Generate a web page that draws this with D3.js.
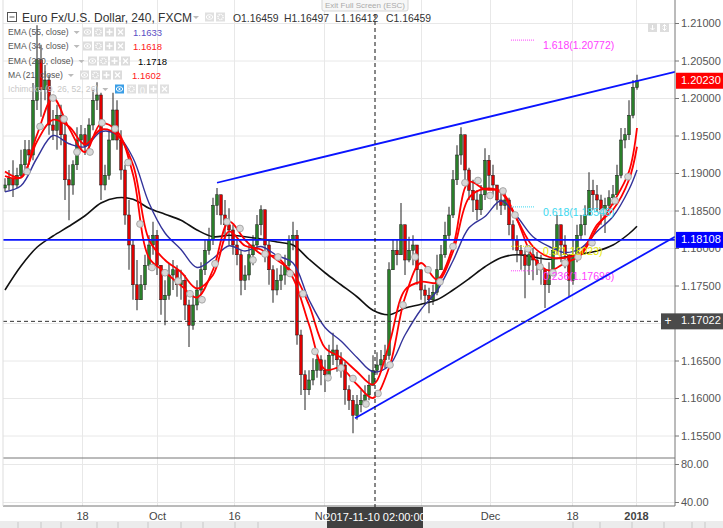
<!DOCTYPE html>
<html><head><meta charset="utf-8">
<script src="https://cdn.jsdelivr.net/npm/d3@7"></script>
<style>body{margin:0;background:#fff;}svg{display:block;font-family:Arial,"Liberation Sans",sans-serif;}</style>
</head><body><svg id="c" width="723" height="528"></svg>
<script>
// ---------------- DATA ----------------
const firstOpen = 1.1880;
const closes = [1.1884,1.1893,1.1884,1.1897,1.1911,1.1931,1.1924,1.1997,1.2051,1.2011,
1.2024,1.1964,1.1957,1.1977,1.1951,1.1891,1.1884,1.1911,1.1944,1.1951,
1.1937,1.1964,1.1997,1.2004,1.1884,1.1897,1.1944,1.1984,1.1944,1.1904,
1.1844,1.1804,1.1751,1.1731,1.1751,1.1777,1.1804,1.1817,1.1777,1.1731,
1.1737,1.1764,1.1771,1.1751,1.1757,1.1724,1.1697,1.1724,1.1744,1.1771,
1.1797,1.1811,1.1857,1.1871,1.1844,1.1831,1.1824,1.1804,1.1791,1.1757,
1.1764,1.1791,1.1804,1.1831,1.1851,1.1804,1.1771,1.1744,1.1757,1.1764,
1.1777,1.1811,1.1817,1.1684,1.1631,1.1611,1.1624,1.1637,1.1651,1.1637,
1.1631,1.1657,1.1664,1.1651,1.1644,1.1611,1.1597,1.1577,1.1591,1.1597,
1.1604,1.1617,1.1637,1.1644,1.1651,1.1657,1.1771,1.1797,1.1791,1.1831,
1.1784,1.1797,1.1804,1.1771,1.1744,1.1737,1.1731,1.1741,1.1771,1.1791,
1.1817,1.1844,1.1891,1.1924,1.1951,1.1904,1.1877,1.1864,1.1851,1.1871,
1.1917,1.1897,1.1884,1.1864,1.1857,1.1864,1.1831,1.1811,1.1797,1.1791,
1.1777,1.1791,1.1784,1.1777,1.1771,1.1751,1.1764,1.1797,1.1831,1.1804,
1.1791,1.1757,1.1791,1.1817,1.1831,1.1844,1.1877,1.1871,1.1864,1.1851,
1.1857,1.1867,1.1871,1.1897,1.1944,1.1951,1.1977,1.2014,1.2023];
const highs = [1.1893,1.1904,1.1917,1.1907,1.1931,1.1944,1.1944,1.2020,1.2097,1.2071,
1.2044,1.2031,1.1984,1.1991,1.1991,1.1975,1.1911,1.1917,1.1961,1.1964,
1.1960,1.1973,1.2011,1.2021,1.2007,1.1911,1.1957,1.2007,1.1997,1.1957,
1.1911,1.1864,1.1811,1.1784,1.1764,1.1791,1.1817,1.1835,1.1824,1.1777,
1.1757,1.1780,1.1784,1.1777,1.1771,1.1764,1.1731,1.1737,1.1757,1.1781,
1.1811,1.1827,1.1867,1.1880,1.1871,1.1864,1.1853,1.1831,1.1811,1.1797,
1.1777,1.1804,1.1817,1.1844,1.1857,1.1851,1.1811,1.1777,1.1773,1.1777,
1.1791,1.1817,1.1835,1.1824,1.1691,1.1637,1.1637,1.1653,1.1664,1.1657,
1.1651,1.1671,1.1687,1.1671,1.1661,1.1648,1.1617,1.1604,1.1604,1.1611,
1.1617,1.1631,1.1657,1.1661,1.1664,1.1671,1.1781,1.1811,1.1811,1.1860,
1.1811,1.1815,1.1817,1.1797,1.1771,1.1751,1.1747,1.1751,1.1791,1.1804,
1.1835,1.1855,1.1904,1.1937,1.1961,1.1944,1.1907,1.1891,1.1877,1.1884,
1.1933,1.1924,1.1911,1.1884,1.1873,1.1875,1.1867,1.1837,1.1817,1.1804,
1.1797,1.1804,1.1800,1.1795,1.1791,1.1771,1.1781,1.1811,1.1844,1.1827,
1.1817,1.1791,1.1811,1.1831,1.1844,1.1857,1.1901,1.1891,1.1884,1.1871,
1.1867,1.1877,1.1884,1.1911,1.1960,1.1960,1.1997,1.2024,1.2031];
const lows = [1.1875,1.1877,1.1868,1.1880,1.1893,1.1904,1.1911,1.1917,1.1984,1.1975,
1.1997,1.1951,1.1944,1.1931,1.1937,1.1864,1.1837,1.1871,1.1904,1.1931,
1.1924,1.1931,1.1957,1.1984,1.1864,1.1877,1.1891,1.1944,1.1931,1.1891,
1.1831,1.1771,1.1731,1.1717,1.1731,1.1744,1.1771,1.1791,1.1764,1.1711,
1.1697,1.1731,1.1744,1.1735,1.1731,1.1704,1.1668,1.1691,1.1717,1.1737,
1.1764,1.1791,1.1804,1.1844,1.1831,1.1811,1.1804,1.1791,1.1777,1.1737,
1.1744,1.1757,1.1777,1.1797,1.1817,1.1781,1.1751,1.1727,1.1737,1.1744,
1.1751,1.1771,1.1797,1.1671,1.1604,1.1584,1.1604,1.1617,1.1627,1.1617,
1.1608,1.1627,1.1644,1.1635,1.1627,1.1591,1.1584,1.1553,1.1571,1.1581,
1.1591,1.1597,1.1617,1.1631,1.1635,1.1640,1.1651,1.1781,1.1777,1.1791,
1.1764,1.1781,1.1777,1.1751,1.1731,1.1724,1.1713,1.1724,1.1737,1.1771,
1.1787,1.1811,1.1840,1.1884,1.1911,1.1891,1.1864,1.1848,1.1837,1.1844,
1.1864,1.1877,1.1871,1.1851,1.1844,1.1851,1.1817,1.1797,1.1781,1.1771,
1.1733,1.1764,1.1757,1.1764,1.1751,1.1720,1.1740,1.1777,1.1791,1.1781,
1.1773,1.1735,1.1751,1.1781,1.1811,1.1817,1.1844,1.1851,1.1848,1.1831,
1.1820,1.1853,1.1857,1.1871,1.1893,1.1933,1.1944,1.1973,1.2011];

// indicator lines, sampled at these bar indices
const lineIdx = [0,4,8,12,16,20,24,28,32,36,40,44,48,52,56,60,64,68,72,76,80,84,88,92,96,100,104,108,112,116,120,124,128,132,136,140,144,148,152,156,158];
const ema200 = [1.1744,1.1776,1.1801,1.1816,1.1829,1.1843,1.1860,1.1867,1.1865,1.1853,1.1845,1.1837,1.1824,1.1815,1.1817,1.1815,1.1812,1.1808,1.1804,1.1785,1.1767,1.1751,1.1735,1.1717,1.1711,1.1720,1.1725,1.1731,1.1744,1.1759,1.1775,1.1787,1.1791,1.1788,1.1785,1.1788,1.1792,1.1796,1.1804,1.1819,1.1829];
const ema55 = [1.1875,1.1883,1.1920,1.1950,1.1939,1.1935,1.1955,1.1951,1.1920,1.1860,1.1820,1.1798,1.1774,1.1786,1.1803,1.1796,1.1802,1.1790,1.1780,1.1731,1.1694,1.1676,1.1654,1.1635,1.1643,1.1684,1.1718,1.1743,1.1783,1.1827,1.1842,1.1863,1.1842,1.1815,1.1802,1.1794,1.1800,1.1822,1.1842,1.1878,1.1904];
const ema34 = [1.1896,1.1894,1.1942,1.1971,1.1962,1.1938,1.1958,1.1951,1.1911,1.1811,1.1784,1.1768,1.1746,1.1764,1.1822,1.1803,1.1798,1.1784,1.1767,1.1724,1.1667,1.1654,1.1635,1.1618,1.1671,1.1744,1.1755,1.1754,1.1795,1.1867,1.1879,1.1874,1.1838,1.1802,1.1788,1.1787,1.1794,1.1831,1.1851,1.1891,1.1935];
const ma21 = [1.1902,1.1894,1.1951,1.2000,1.1960,1.1928,1.1966,1.1956,1.1898,1.1787,1.1768,1.1750,1.1734,1.1771,1.1835,1.1811,1.1792,1.1788,1.1760,1.1698,1.1638,1.1640,1.1618,1.1600,1.1640,1.1734,1.1780,1.1758,1.1802,1.1888,1.1878,1.1876,1.1838,1.1788,1.1770,1.1780,1.1791,1.1827,1.1860,1.1902,1.1960];

// grey circle markers (bar index, price)
const dotIdx = [5.5,8.75,12,14.75,18,21.25,24.25,27.5,30.75,33.75,36.75,40,43.25,46.25,49.25,52.5,55.5,58.75,62,65,68.25,71.25,74.5,77.5,80.75,84,87,90.25,93.25,96.25,99.5,102.5,105.75,108.75,112,115,118.25,121.25,124.5,127.5,130.75,133.75,137,140,143.25,146.75,149.5,152.5,155.75];
const dotPrice = [1.1902,1.1962,1.2000,1.1972,1.1928,1.1928,1.1967,1.1959,1.1914,1.1832,1.1774,1.1767,1.1756,1.1739,1.1731,1.1779,1.1835,1.1826,1.1784,1.1792,1.1788,1.1766,1.1739,1.1662,1.1627,1.1640,1.1626,1.1592,1.1606,1.1644,1.1724,1.1788,1.1771,1.1755,1.1802,1.1887,1.1890,1.1870,1.1876,1.1844,1.1799,1.1775,1.1767,1.1780,1.1788,1.1807,1.1848,1.1863,1.1895];

// drawings
const trendStartIdx = [53, 87.5];
const trendStartPrice = [1.1887, 1.1573];
const trendEndIdx = [167.5, 167.5];
const trendEndPrice = [1.2035, 1.1815];
const hLinePrice = 1.18108;
const dashedPrice = 1.17022;
const lastPrice = 1.20230;
const crossIdx = 92.5;
const crossLabel = "2017-11-10 02:00:00";

const fibLabels = ["1.618(1.20772)","0.618(1.18548)","0.5(1.18023)","0.236(1.17696)"];
const fibPrices = [1.20772,1.18548,1.18023,1.17696];
const fibColors = ["#ff40ff","#38d8f0","#e8e800","#ff40ff"];
const fibStartIdx = 126.5, fibEndIdx = 132.5, fibTextIdx = 134.5;

const priceTicks = [1.155,1.16,1.165,1.17,1.175,1.18,1.185,1.19,1.195,1.20,1.205,1.21];
const subTicks = [40,80];
const xTickIdx = [19.25,38,57.25,79.75,104,121.25,141.75,157.75];
const xTickLabels = ["18","Oct","16","Nov","","Dec","18","2018"];

const legendNames = ["EMA (55, close)","EMA (34, close)","EMA (200, close)","MA (21, close)"];
const legendValues = ["1.1633","1.1618","1.1718","1.1602"];
const legendColors = ["#5b4fc4","#ff2020","#000000","#ff2020"];
const ohlcLabels = ["O1.16459","H1.16497","L1.16412","C1.16459"];

// ---------------- LAYOUT ----------------
const svg = d3.select("#c");
const L = 3, R = 675, mainB = 458, subB = 506;
const x = d3.scaleLinear().domain([0,158]).range([5,637]);
const y = d3.scaleLinear().domain([1.155,1.21]).range([435.5,23]);
const ys = d3.scaleLinear().domain([40,80]).range([502,464]);

svg.append("defs").append("clipPath").attr("id","mc").append("rect")
  .attr("x",L).attr("y",0).attr("width",R-L).attr("height",mainB);

// grids
const gridC = "#e8e8e8";
svg.append("g").attr("transform",`translate(${L},0)`)
  .call(d3.axisRight(y).tickValues(priceTicks).tickSize(R-L).tickFormat(""))
  .call(g=>{g.select(".domain").remove();g.selectAll("line").attr("stroke",gridC);});
svg.append("g").attr("transform",`translate(${L},0)`)
  .call(d3.axisRight(ys).tickValues(subTicks).tickSize(R-L).tickFormat(""))
  .call(g=>{g.select(".domain").remove();g.selectAll("line").attr("stroke",gridC);});
svg.append("g").attr("transform",`translate(0,${subB})`)
  .call(d3.axisTop(x).tickValues(xTickIdx).tickSize(subB).tickFormat(""))
  .call(g=>{g.select(".domain").remove();g.selectAll("line").attr("stroke",gridC);});

const plot = svg.append("g").attr("clip-path","url(#mc)");
const line = d3.line().x(d=>x(d[0])).y(d=>y(d[1])).curve(d3.curveCatmullRom.alpha(0.5));
const pts = arr => arr.map((v,k)=>[lineIdx[k],v]);

// EMA200 under candles
plot.append("path").attr("d",line(pts(ema200))).attr("fill","none").attr("stroke","#111").attr("stroke-width",1.6);

// candles
const opens = closes.map((c,i)=> i ? closes[i-1] : firstOpen);
const candles = closes.map((c,i)=>({i,o:opens[i],h:highs[i],l:lows[i],c}));
const cg = plot.append("g");
cg.selectAll("line").data(candles).join("line")
  .attr("x1",d=>x(d.i)).attr("x2",d=>x(d.i))
  .attr("y1",d=>y(Math.max(d.h,d.o,d.c))).attr("y2",d=>y(Math.min(d.l,d.o,d.c)))
  .attr("stroke","#222").attr("stroke-width",1);
cg.selectAll("rect").data(candles).join("rect")
  .attr("x",d=>x(d.i)-1.4).attr("width",2.8)
  .attr("y",d=>y(Math.max(d.o,d.c))).attr("height",d=>Math.max(1,Math.abs(y(d.o)-y(d.c))))
  .attr("fill",d=>d.c>=d.o?"#2a7f2a":"#e00000").attr("stroke","#1a1a1a").attr("stroke-width",0.5);

// indicator lines
plot.append("path").attr("d",line(pts(ema55))).attr("fill","none").attr("stroke","#33339a").attr("stroke-width",1.4);
plot.append("path").attr("d",line(pts(ema34))).attr("fill","none").attr("stroke","#ff0000").attr("stroke-width",1.8);
plot.append("path").attr("d",line(pts(ma21))).attr("fill","none").attr("stroke","#ff0000").attr("stroke-width",1.8);

plot.selectAll("circle.dot").data(dotIdx).join("circle").attr("class","dot")
  .attr("cx",d=>x(d)).attr("cy",(d,k)=>y(dotPrice[k])).attr("r",3.4)
  .attr("fill","#d8d8d8").attr("stroke","#9a9a9a").attr("stroke-width",0.8);

// fib labels
fibPrices.forEach((p,k)=>{
  plot.append("line").attr("x1",x(fibStartIdx)).attr("x2",x(fibEndIdx)).attr("y1",y(p)).attr("y2",y(p))
    .attr("stroke",fibColors[k]).attr("stroke-dasharray","1,1").attr("stroke-width",1);
  plot.append("text").attr("x",x(fibTextIdx)).attr("y",y(p)+6).attr("dominant-baseline","middle")
    .attr("font-size",10.5).attr("fill",fibColors[k]).text(fibLabels[k]);
});

// trend lines
trendStartIdx.forEach((s,k)=>{
  plot.append("line").attr("x1",x(s)).attr("y1",y(trendStartPrice[k]))
    .attr("x2",x(trendEndIdx[k])).attr("y2",y(trendEndPrice[k]))
    .attr("stroke","#0a14ff").attr("stroke-width",1.8);
});
plot.append("line").attr("x1",L).attr("x2",R).attr("y1",y(hLinePrice)).attr("y2",y(hLinePrice))
  .attr("stroke","#0a14ff").attr("stroke-width",1.8);
svg.append("line").attr("x1",L).attr("x2",661).attr("y1",y(dashedPrice)).attr("y2",y(dashedPrice))
  .attr("stroke","#333").attr("stroke-dasharray","4,3");

// frame lines
svg.append("line").attr("x1",L).attr("x2",R).attr("y1",mainB).attr("y2",mainB).attr("stroke","#777");
svg.append("line").attr("x1",L).attr("x2",R).attr("y1",subB).attr("y2",subB).attr("stroke","#777");
svg.append("line").attr("x1",R).attr("x2",R).attr("y1",0).attr("y2",subB).attr("stroke","#777");
svg.append("line").attr("x1",L).attr("x2",L).attr("y1",0).attr("y2",subB).attr("stroke","#ddd");

// right axes (labels hidden under the 1.17022 tag are not drawn)
const axStyle = g=>{g.select(".domain").remove();g.selectAll("line").attr("stroke","#777");
  g.selectAll("text").attr("fill","#555").attr("font-size",11).attr("font-family","Arial, Liberation Sans, sans-serif");};
svg.append("g").attr("transform",`translate(${R},0)`)
  .call(d3.axisRight(y).tickValues(priceTicks).tickSize(4).tickPadding(2)
    .tickFormat(d=>Math.abs(y(d)-y(dashedPrice))<8?"":d3.format(".5f")(d))).call(axStyle);
svg.append("g").attr("transform",`translate(${R},0)`)
  .call(d3.axisRight(ys).tickValues(subTicks).tickSize(4).tickPadding(2).tickFormat(d3.format(".2f"))).call(axStyle);

// bottom axis
svg.append("g").attr("transform",`translate(0,${subB})`)
  .call(d3.axisBottom(x).tickValues(xTickIdx).tickSize(0).tickPadding(6).tickFormat((d,k)=>xTickLabels[k]))
  .call(g=>{g.select(".domain").remove();g.selectAll("text").attr("fill","#444").attr("font-size",11)
    .attr("font-family","Arial, Liberation Sans, sans-serif")
    .attr("font-weight",(d,k)=>k===xTickLabels.length-1?"bold":"normal");});

// price labels on axis
function priceTag(p, color, x0, txt){
  svg.append("rect").attr("x",x0).attr("y",y(p)-8).attr("width",723-x0).attr("height",16).attr("fill",color);
  svg.append("text").attr("x",681).attr("y",y(p)).attr("dominant-baseline","middle").attr("font-size",11)
    .attr("fill","#fff").text(txt);
}
priceTag(lastPrice,"#ff0000",676,d3.format(".5f")(lastPrice));
priceTag(hLinePrice,"#0000ff",676,d3.format(".5f")(hLinePrice));
priceTag(dashedPrice,"#4a4a4a",661,d3.format(".5f")(dashedPrice));
svg.append("text").attr("x",668).attr("y",y(dashedPrice)).attr("dominant-baseline","middle")
  .attr("text-anchor","middle").attr("font-size",12).attr("fill","#fff").text("+");

// crosshair
svg.append("line").attr("x1",x(crossIdx)).attr("x2",x(crossIdx)).attr("y1",0).attr("y2",subB+2)
  .attr("stroke","#111").attr("stroke-dasharray","4,3");

// bottom toolbar
svg.append("rect").attr("x",0).attr("y",521).attr("width",723).attr("height",7).attr("fill","#ececec");
[18,41,61,97,118,148,181,203,235,258,573,600,632,664,692,705].forEach(s=>
  svg.append("line").attr("x1",s).attr("x2",s).attr("y1",522).attr("y2",528).attr("stroke","#c8c8c8"));

// crosshair time label
svg.append("rect").attr("x",327).attr("y",507).attr("width",96).attr("height",21).attr("fill","#404040");
svg.append("text").attr("x",375).attr("y",518).attr("text-anchor","middle").attr("dominant-baseline","middle")
  .attr("font-size",11).attr("fill","#fff").text(crossLabel);

// tooltip at top
svg.append("rect").attr("x",322).attr("y",-3).attr("width",86).attr("height",14).attr("fill","#f7f7f7").attr("stroke","#d5d5d5").attr("rx",2);
svg.append("text").attr("x",365).attr("y",7.5).attr("text-anchor","middle").attr("font-size",8).attr("fill","#aaa").text("Exit Full Screen (ESC)");

// ------ legend ------
function btn(x0,y0,kind,fill){
  svg.append("rect").attr("x",x0).attr("y",y0).attr("width",9).attr("height",9).attr("fill",fill||"#dcdcdc");
  const cx=x0+4.5, cy=y0+4.5;
  if(kind==="eye"){svg.append("ellipse").attr("cx",cx).attr("cy",cy).attr("rx",3.2).attr("ry",2.3).attr("fill","none").attr("stroke","#fff").attr("stroke-width",1);
    svg.append("circle").attr("cx",cx).attr("cy",cy).attr("r",1).attr("fill","#fff");}
  else if(kind==="gear"){svg.append("circle").attr("cx",cx).attr("cy",cy).attr("r",2.6).attr("fill","none").attr("stroke","#fff").attr("stroke-width",1.4).attr("stroke-dasharray","1.2,0.8");}
  else if(kind==="plus"){svg.append("path").attr("d",`M${cx-3},${cy}H${cx+3}M${cx},${cy-3}V${cy+3}`).attr("stroke","#fff").attr("stroke-width",1.4);}
  else if(kind==="x"){svg.append("path").attr("d",`M${cx-2.5},${cy-2.5}L${cx+2.5},${cy+2.5}M${cx+2.5},${cy-2.5}L${cx-2.5},${cy+2.5}`).attr("stroke","#fff").attr("stroke-width",1.3);}
  else if(kind==="par"){svg.append("text").attr("x",cx).attr("y",cy+0.5).attr("text-anchor","middle").attr("dominant-baseline","middle").attr("font-size",8).attr("fill","#fff").text("()");}
}
function caret(x0,y0){svg.append("path").attr("d",`M${x0},${y0}l3,3l3,-3z`).attr("fill","#bbb");}

// title row
svg.append("rect").attr("x",7.5).attr("y",12.5).attr("width",9).attr("height",9).attr("fill","#fff").attr("stroke","#555");
svg.append("line").attr("x1",9.5).attr("x2",14.5).attr("y1",17).attr("y2",17).attr("stroke","#555");
svg.append("text").attr("x",22).attr("y",21.5).attr("font-size",12).attr("fill","#333").text("Euro Fx/U.S. Dollar, 240, FXCM");
caret(193,16);
btn(205,12.5,"eye","#e0e0e0"); btn(216,12.5,"gear","#e0e0e0");
const ohlcX = [233,284,335,386];
ohlcLabels.forEach((t,k)=>svg.append("text").attr("x",ohlcX[k]).attr("y",21.5).attr("font-size",10.4).attr("fill","#333").text(t));

// indicator rows
const rowY = [32,46,61,75];
const btnX0 = [83,83,88,80];
const valX = [133,133,138,132];
legendNames.forEach((n,k)=>{
  const yy=rowY[k];
  const t=svg.append("text").attr("x",8).attr("y",yy+3).attr("font-size",8.6).attr("fill","#555").text(n);
  const w=t.node().getComputedTextLength();
  caret(8+w+5,yy-1);
  ["eye","gear","plus","x"].forEach((kd,j)=>btn(btnX0[k]+j*11,yy-4.5,kd));
  svg.append("text").attr("x",valX[k]).attr("y",yy+3.5).attr("font-size",9.5).attr("fill",legendColors[k]).text(legendValues[k]);
});
{
  const yy=89;
  const t=svg.append("text").attr("x",8).attr("y",yy+3).attr("font-size",8.6).attr("fill","#c8c8c8").text("Ichimoku (9, 26, 52, 26)");
  const w=t.node().getComputedTextLength();
  caret(8+w+4,yy-1);
  btn(115,yy-4.5,"eye","#3a9ee6");
  ["gear","par","plus","x"].forEach((kd,j)=>btn(127+j*11,yy-4.5,kd,"#e0e0e0"));
}
// top-right small buttons
svg.append("rect").attr("x",648).attr("y",23).attr("width",9).attr("height",9).attr("fill","#ddd");
svg.append("rect").attr("x",660).attr("y",23).attr("width",9).attr("height",9).attr("fill","#ddd");
svg.append("path").attr("d","M652.5,25V30M650.5,28l2,2l2,-2").attr("stroke","#fff").attr("fill","none");
svg.append("path").attr("d","M664.5,24.5V30.5M662.5,26.5l2,-2l2,2M662.5,28.5l2,2l2,-2").attr("stroke","#fff").attr("fill","none");
</script></body></html>
